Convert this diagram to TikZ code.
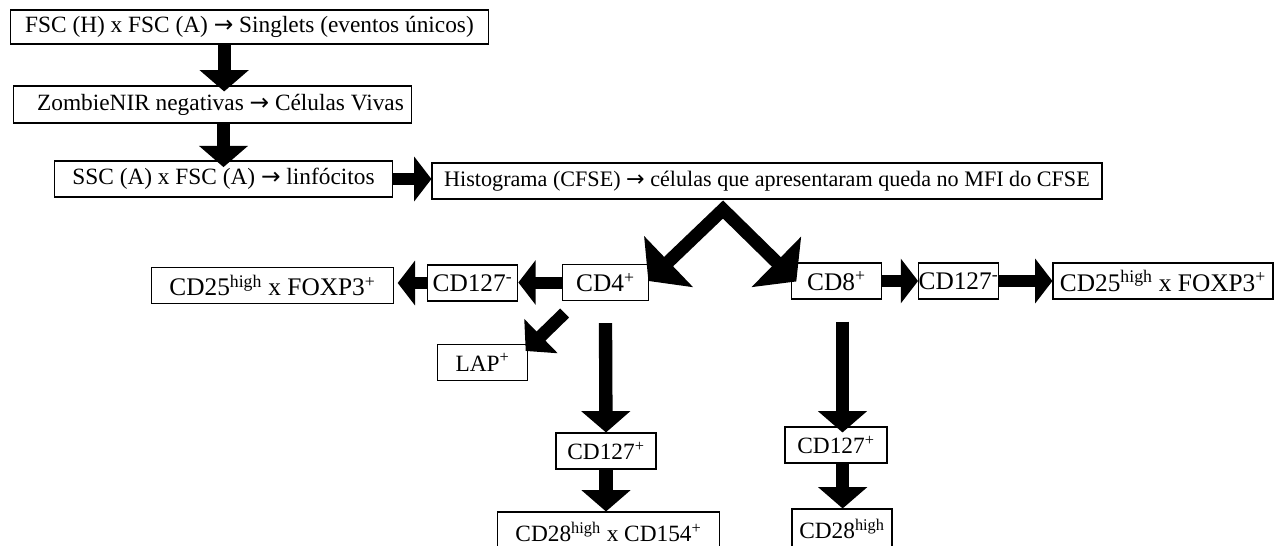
\documentclass[tikz,border=0pt]{standalone}
\usepackage{fontspec}
\setmainfont{Liberation Serif}
\newfontfamily\arrowfont{DejaVu Sans}
\newcommand{\gatearrow}{{\arrowfont →}}
\usepackage{tikz}
\usetikzlibrary{arrows.meta, positioning}

\begin{document}
\begin{tikzpicture}[
    x=0.75pt, y=-0.75pt,
    box/.style={rectangle, draw, line width=0.8pt, fill=white, minimum height=27pt, inner sep=0pt, align=center, font=\fontsize{17.5}{21}\selectfont},
    rowbox/.style={box, font=\fontsize{19}{22}\selectfont},
    blockarrow/.style={line width=10pt, -{Triangle[width=36pt, length=16pt]}},
    sidearrow/.style={line width=9pt, -{Triangle[width=33pt, length=13pt]}},
    splitarrow/.style={line width=9.75pt, line join=miter, {Triangle[width=52pt, length=21pt]}-{Triangle[width=52pt, length=21pt]}}
]
    \useasboundingbox (0,0) rectangle (1283,546);
    \node[box, minimum width=359pt, minimum height=25.5pt] (singlets) at (249.5,27) {FSC (H) x FSC (A) \gatearrow{} Singlets (eventos únicos)};
    \node[box, minimum width=299pt, minimum height=27.75pt] (zombie) at (212.5,104.5) {\hspace{12pt}ZombieNIR negativas \gatearrow{} Células Vivas};
    \node[box, minimum width=253pt] (ssc) at (223.5,179) {SSC (A) x FSC (A) \gatearrow{} linfócitos};
    \node[box, minimum width=502.5pt, font=\fontsize{16.6}{20}\selectfont] (hist) at (767,181) {Histograma (CFSE) \gatearrow{} células que apresentaram queda no MFI do CFSE};
    \node[rowbox, minimum width=65pt] (cd4) at (605.5,282.5) {CD4\textsuperscript{+}};
    \node[rowbox, minimum width=67pt] (cd8) at (836.5,281) {CD8\textsuperscript{+}};
    \node[rowbox, minimum width=68pt] (cd127mL) at (472.5,283) {CD127\textsuperscript{-}};
    \node[rowbox, minimum width=181pt] (cd25L) at (272.5,285.5) {CD25\textsuperscript{high} x FOXP3\textsuperscript{+}};
    \node[rowbox, minimum width=58pt] (cd127mR) at (958.5,281) {CD127\textsuperscript{-}};
    \node[rowbox, minimum width=165pt] (cd25R) at (1163,281) {CD25\textsuperscript{high} x FOXP3\textsuperscript{+}};
    \node[box, minimum width=67pt] (lap) at (482.5,362.5) {LAP\textsuperscript{+}};
    \node[box, minimum width=75pt] (cd127pL) at (606,451) {CD127\textsuperscript{+}};
    \node[box, minimum width=167pt, minimum height=30pt] (cd28L) at (608.5,532) {CD28\textsuperscript{high} x CD154\textsuperscript{+}};
    \node[box, minimum width=76.5pt] (cd127pR) at (836,445) {CD127\textsuperscript{+}};
    \node[box, minimum width=75pt, minimum height=30pt] (cd28R) at (842,529) {CD28\textsuperscript{high}};

    \draw[blockarrow] ([xshift=-19pt]singlets.south) -- ([xshift=-19pt,yshift=-4.5pt]singlets.south |- zombie.north);
    \draw[blockarrow] (ssc.north |- zombie.south) -- ([yshift=-5pt]ssc.north);
    \draw[sidearrow] (ssc.east) -- (ssc.east -| hist.west);
    \draw[splitarrow] ([xshift=-0.75pt,yshift=-12.75pt]cd4.north east) -- ([xshift=-33pt,yshift=-7.5pt]hist.south) -- ([xshift=3.75pt,yshift=-14.25pt]cd8.north west);
    \draw[sidearrow] (cd4.west) -- (cd4.west -| cd127mL.east);
    \draw[sidearrow] (cd127mL.west) -- ([xshift=3pt]cd127mL.west -| cd25L.east);
    \draw[sidearrow] (cd8.east) -- (cd127mR.west);
    \draw[sidearrow] (cd127mR.east) -- (cd25R.west);
    \draw[line width=9.5pt, -{Triangle[width=35pt, length=16pt]}] ([xshift=2.25pt,yshift=-9pt]cd4.south west) -- ([xshift=-1.5pt,yshift=-5.25pt]lap.north east);
    \draw[blockarrow] ([yshift=-16.5pt]cd4.south) -- (cd127pL.north);
    \draw[blockarrow] (cd127pL.south) -- (cd127pL.south |- cd28L.north);
    \draw[blockarrow] ([xshift=4.5pt,yshift=-16.5pt]cd8.south) -- ([xshift=4.5pt,yshift=-4.5pt]cd8.south |- cd127pR.north);
    \draw[blockarrow] ([xshift=5pt]cd127pR.south) -- ([xshift=5pt]cd127pR.south |- cd28R.north);
\end{tikzpicture}
\end{document}
